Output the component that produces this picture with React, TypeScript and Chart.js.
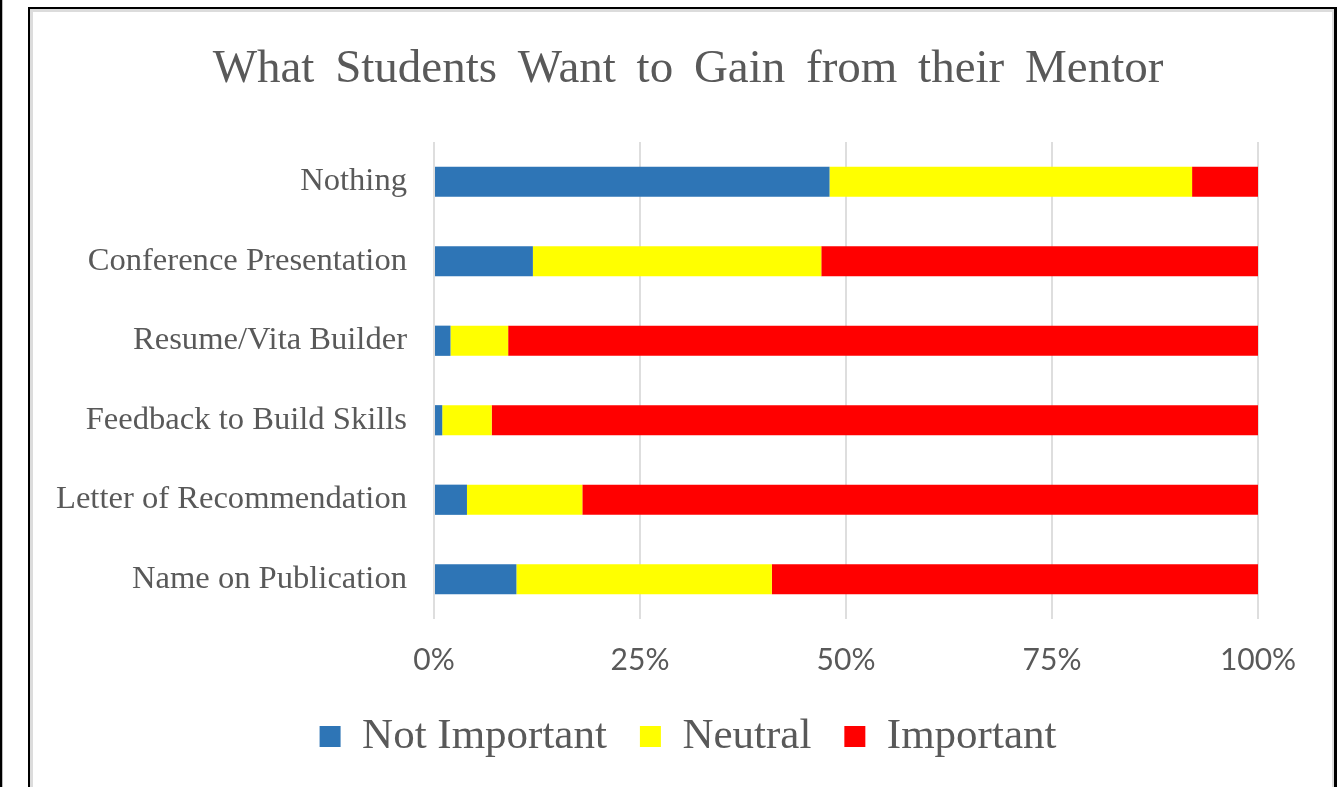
import React, { useEffect, useRef } from "react";
import { Chart, registerables } from "chart.js";

Chart.register(...registerables);

const categories = [
  "Nothing",
  "Conference Presentation",
  "Resume/Vita Builder",
  "Feedback to Build Skills",
  "Letter of Recommendation",
  "Name on Publication",
];
const notImportant = [48, 12, 2, 1, 4, 10];
const neutral = [44, 35, 7, 6, 14, 31];
const important = [8, 53, 91, 93, 82, 59];
const xTicks = [0, 25, 50, 75, 100];

const TEXT = "#595959";
const SERIF = "'Liberation Serif', 'Times New Roman', serif";

const titleSpacing = {
  id: "titleSpacing",
  beforeDraw(chart: any) {
    const tb = chart.titleBlock;
    if (tb && !tb.__wrapped) {
      const orig = tb.draw.bind(tb);
      tb.draw = (...args: any[]) => {
        const ctx = chart.ctx as any;
        ctx.save();
        ctx.wordSpacing = "9px";
        orig(...args);
        ctx.restore();
      };
      tb.__wrapped = true;
    }
  },
};

export default function App() {
  const ref = useRef<HTMLCanvasElement>(null);

  useEffect(() => {
    if (!ref.current) return;
    const chart = new Chart(ref.current, {
      type: "bar",
      data: {
        labels: categories,
        datasets: [
          { label: "Not Important", data: notImportant, backgroundColor: "#2E75B6" },
          { label: "Neutral", data: neutral, backgroundColor: "#FFFF00" },
          { label: "Important", data: important, backgroundColor: "#FF0000" },
        ],
      },
      plugins: [titleSpacing],
      options: {
        indexAxis: "y",
        responsive: false,
        animation: false,
        devicePixelRatio: 1,
        layout: { padding: { left: 20, right: 9, top: 0, bottom: 44 } },
        datasets: {
          bar: { categoryPercentage: 1, barPercentage: 0.38 },
        },
        plugins: {
          title: {
            display: true,
            text: "What Students Want to Gain from their Mentor",
            color: TEXT,
            font: { family: SERIF, size: 47, weight: "normal" },
            padding: { top: 29, bottom: 44.6 },
          },
          legend: {
            position: "bottom",
            labels: {
              color: TEXT,
              font: { family: SERIF, size: 43 },
              boxWidth: 21,
              boxHeight: 21,
              padding: 33,
            },
          },
          tooltip: { enabled: false },
        },
        scales: {
          x: {
            stacked: true,
            min: 0,
            max: 100,
            afterBuildTicks: (scale: any) => {
              scale.ticks = xTicks.map((v) => ({ value: v }));
            },
            afterFit: (scale: any) => {
              scale.height = 63;
              scale.paddingLeft = 0;
              scale.paddingRight = 74;
            },
            ticks: {
              color: TEXT,
              font: { family: "Lato, 'Open Sans', sans-serif", size: 30 },
              padding: 23,
              callback: (v: any) => v + "%",
            },
            grid: { color: "#dedede", lineWidth: 2, drawTicks: false },
            border: { display: false },
          },
          y: {
            stacked: true,
            afterFit: (scale: any) => {
              scale.width = 381;
            },
            ticks: {
              color: TEXT,
              font: { family: SERIF, size: 32.6 },
              padding: 19,
            },
            grid: { display: false },
            border: { display: false },
          },
        },
      },
    });
    return () => chart.destroy();
  }, []);

  return (
    <div style={{ position: "fixed", left: 0, top: 0, width: 1338, height: 787, overflow: "hidden", background: "#fff" }}>
      <div style={{ position: "absolute", left: 0, top: 0, width: 2, height: 787, background: "#000", borderRight: "1px solid #bbb" }} />
      <div
        style={{
          position: "absolute",
          left: 28,
          top: 7,
          width: 1309,
          height: 830,
          boxSizing: "border-box",
          borderTop: "2px solid #000",
          borderLeft: "2px solid #000",
          borderRight: "3px solid #000",
        }}
      >
        <div
          style={{
            position: "absolute",
            inset: 0,
            boxSizing: "border-box",
            borderTop: "3px solid #dcdcdc",
            borderLeft: "3px solid #dcdcdc",
            borderRight: "2px solid #dcdcdc",
          }}
        />
      </div>
      <canvas ref={ref} width={1299} height={800} style={{ position: "absolute", left: 33, top: 12, width: 1299, height: 800 }} />
    </div>
  );
}
